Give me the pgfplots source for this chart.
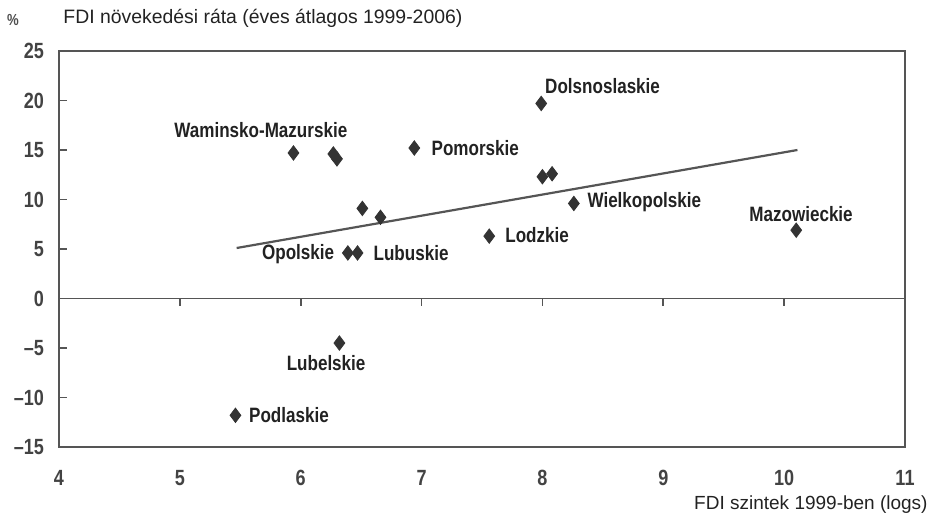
\documentclass[border=0pt]{standalone}
\usepackage{fontspec}
\setmainfont{Liberation Sans}
\newfontfamily\condb[FakeStretch=0.82]{Liberation Sans Bold}
\usepackage{pgfplots}
\pgfplotsset{compat=1.18}
\definecolor{mk}{HTML}{333333}
\definecolor{ln}{HTML}{555555}
\definecolor{tx}{HTML}{222222}
\begin{document}
\begin{tikzpicture}
\useasboundingbox (0,0) rectangle (466pt,259.5pt);
\begin{axis}[
  at={(29.5pt,36pt)}, anchor=south west,
  scale only axis, width=423pt, height=198pt,
  xmin=4, xmax=11, ymin=-15, ymax=25,
  xtick={4,...,11}, ytick={-15,-10,...,25},
  xticklabels={4,5,6,7,8,9,10,11},
  yticklabels={–15,–10,–5,0,5,10,15,20,25},
  x tick style={draw=none},
  y tick style={draw=ln, line width=0.8pt},
  ytick pos=left, major tick length=4pt,
  tick align=inside,
  axis line style={draw=ln, line width=0.9pt},
  ticklabel style={font=\condb\fontsize{11}{12}\selectfont, text=tx!85},
  yticklabel style={xshift=-4pt},
  xticklabel style={yshift=-8pt},
  clip=false,
]
% zero line with x ticks
\draw[ln, line width=0.9pt] (axis cs:4,0) -- (axis cs:11,0);
\pgfplotsinvokeforeach{5,...,10}{\draw[ln, line width=0.8pt] (axis cs:#1,0) -- ([yshift=-4pt]axis cs:#1,0);}
% trend line
\addplot[ln, line width=1.1pt] coordinates {(5.47,5.1) (10.11,15.0)};
% data
\addplot[only marks, mark=diamond*, mark size=3.6pt, mark options={fill=mk, draw=mk}] coordinates {
 (7.99,19.7) (5.94,14.7) (6.27,14.6) (6.30,14.1) (6.94,15.2)
 (8.00,12.3) (8.08,12.6) (8.26,9.6) (10.10,6.9) (6.51,9.1)
 (6.66,8.2) (7.56,6.3) (6.39,4.6) (6.47,4.6) (6.32,-4.5) (5.46,-11.8)
};
\begin{scope}[every node/.style={font=\condb\fontsize{10.4}{12}\selectfont, text=tx, inner sep=0pt}]
\node[anchor=west] at (axis cs:8.02,21.5) {Dolsnoslaskie};
\node at (axis cs:5.67,17.0) {Waminsko-Mazurskie};
\node[anchor=west] at (axis cs:7.08,15.2) {Pomorskie};
\node[anchor=west] at (axis cs:8.37,9.75) {Wielkopolskie};
\node at (axis cs:10.14,8.5) {Mazowieckie};
\node[anchor=west] at (axis cs:7.69,6.4) {Lodzkie};
\node[anchor=east] at (axis cs:6.28,4.5) {Opolskie};
\node[anchor=west] at (axis cs:6.60,4.6) {Lubuskie};
\node at (axis cs:6.21,-6.5) {Lubelskie};
\node[anchor=west] at (axis cs:5.57,-11.8) {Podlaskie};
\end{scope}
\end{axis}
\node[anchor=west, font=\fontsize{9.7}{12}\selectfont, text=tx, inner sep=0pt] at (31.5pt,250.5pt) {FDI növekedési ráta (éves átlagos 1999-2006)};
\node[anchor=center, font=\condb\fontsize{8}{9}\selectfont, text=tx!80, inner sep=0pt] at (6.5pt,249.5pt) {\%};
\node[anchor=east, font=\fontsize{9.5}{11}\selectfont, text=tx, inner sep=0pt] at (464pt,7pt) {FDI szintek 1999-ben (logs)};
\end{tikzpicture}
\end{document}
